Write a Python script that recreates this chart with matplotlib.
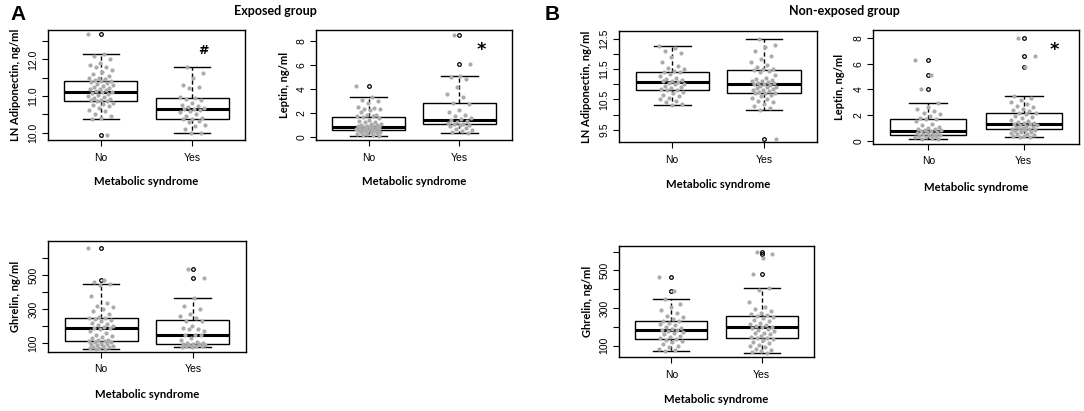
import numpy as np
import matplotlib
matplotlib.use("Agg")
import matplotlib.pyplot as plt

groups = ["No", "Yes"]

# ---- exposed group ----
adipo_exp_no = [12.68, 12.14, 12.10, 12.02, 11.90, 11.85, 11.80, 11.78, 11.72, 11.65, 11.60, 11.55,
                11.50, 11.48, 11.45, 11.43, 11.42, 11.40, 11.38, 11.35, 11.32, 11.30, 11.28, 11.25,
                11.22, 11.20, 11.18, 11.15, 11.13, 11.12, 11.10, 11.08, 11.05, 11.02, 11.00, 10.98,
                10.95, 10.92, 10.90, 10.88, 10.86, 10.85, 10.82, 10.78, 10.75, 10.72, 10.68, 10.62,
                10.58, 10.52, 10.45, 10.40, 10.37, 9.94]
adipo_exp_yes = [11.80, 11.62, 11.50, 11.30, 11.25, 11.22, 10.98, 10.95, 10.92, 10.88, 10.80, 10.75,
                 10.72, 10.70, 10.68, 10.65, 10.64, 10.62, 10.58, 10.55, 10.50, 10.45, 10.40, 10.38,
                 10.36, 10.32, 10.28, 10.22, 10.18, 10.10, 10.00, 9.98]
lep_exp_no = [4.25, 3.32, 3.10, 2.95, 2.80, 2.50, 2.40, 2.35, 2.30, 2.20, 2.05, 1.85, 1.80, 1.75, 1.70,
              1.68, 1.55, 1.40, 1.30, 1.25, 1.20, 1.10, 1.05, 1.00, 0.95, 0.90, 0.88, 0.85, 0.84, 0.82,
              0.78, 0.75, 0.70, 0.65, 0.62, 0.60, 0.58, 0.56, 0.55, 0.52, 0.50, 0.45, 0.42, 0.40, 0.35,
              0.30, 0.25, 0.20, 0.15, 0.10, 0.06]
lep_exp_yes = [8.5, 6.1, 5.07, 5.0, 4.8, 4.15, 3.6, 3.3, 2.8, 2.75, 2.2, 2.05, 1.85, 1.75, 1.55, 1.45,
               1.40, 1.35, 1.25, 1.15, 1.10, 1.05, 1.00, 0.95, 0.85, 0.75, 0.65, 0.55, 0.45, 0.35, 0.28]
ghr_exp_no = [662, 473, 460, 451, 440, 380, 335, 320, 310, 300, 290, 270, 255, 248, 245, 240, 235, 228,
              220, 212, 205, 198, 192, 188, 186, 180, 170, 160, 150, 140, 135, 128, 120, 115, 112, 110,
              108, 105, 100, 96, 92, 88, 85, 82, 78, 75, 72, 70, 66, 64]
ghr_exp_yes = [538, 482, 366, 320, 300, 270, 260, 250, 232, 228, 200, 190, 185, 180, 170, 150, 147, 145,
               130, 115, 105, 100, 98, 96, 94, 92, 90, 88, 85, 82, 80, 76, 74]

# ---- non-exposed group ----
adipo_non_no = [12.28, 12.20, 12.10, 12.05, 11.90, 11.75, 11.60, 11.55, 11.50, 11.45, 11.42, 11.40,
                11.35, 11.28, 11.22, 11.18, 11.15, 11.12, 11.10, 11.08, 11.05, 11.02, 11.00, 10.95,
                10.92, 10.88, 10.85, 10.82, 10.80, 10.75, 10.70, 10.65, 10.60, 10.55, 10.50, 10.45,
                10.40, 10.36, 10.33]
adipo_non_yes = [12.52, 12.30, 12.25, 12.10, 11.95, 11.85, 11.75, 11.65, 11.58, 11.52, 11.50, 11.48,
                 11.45, 11.40, 11.30, 11.22, 11.18, 11.15, 11.12, 11.10, 11.08, 11.05, 11.03, 11.02,
                 11.00, 10.98, 10.95, 10.92, 10.90, 10.88, 10.85, 10.82, 10.80, 10.78, 10.75, 10.73,
                 10.72, 10.70, 10.65, 10.60, 10.55, 10.50, 10.45, 10.40, 10.35, 10.30, 10.22, 10.16, 9.18]
lep_non_no = [6.3, 5.1, 4.0, 2.96, 2.6, 2.5, 2.3, 2.2, 2.1, 1.95, 1.8, 1.7, 1.66, 1.5, 1.3, 1.2, 1.1,
              1.0, 0.95, 0.9, 0.85, 0.8, 0.78, 0.75, 0.7, 0.65, 0.6, 0.55, 0.5, 0.45, 0.44, 0.4, 0.35,
              0.3, 0.25, 0.2, 0.15, 0.13]
lep_non_yes = [8.0, 6.6, 5.75, 3.53, 3.3, 3.2, 3.0, 2.9, 2.7, 2.6, 2.5, 2.4, 2.3, 2.2, 2.16, 2.05, 1.95,
               1.85, 1.75, 1.65, 1.55, 1.45, 1.40, 1.35, 1.30, 1.28, 1.25, 1.20, 1.15, 1.10, 1.05, 1.00,
               0.95, 0.91, 0.88, 0.85, 0.80, 0.75, 0.70, 0.65, 0.60, 0.55, 0.50, 0.45, 0.40, 0.35, 0.30, 0.26]
ghr_non_no = [465, 392, 350, 320, 305, 290, 275, 260, 250, 240, 232, 229, 222, 215, 208, 200, 195, 188,
              183, 181, 178, 172, 165, 160, 152, 145, 140, 137, 132, 125, 118, 110, 100, 92, 85, 78, 70]
ghr_non_yes = [600, 585, 565, 483, 407, 395, 330, 305, 295, 285, 275, 268, 262, 260, 255, 245, 238, 230,
               222, 215, 208, 203, 200, 199, 195, 190, 185, 178, 170, 165, 160, 152, 145, 140, 139, 135,
               128, 120, 112, 105, 98, 92, 85, 78, 70, 65, 61]

# box statistics: (whislo, q1, med, q3, whishi, fliers)
stats_adipo_exp = [(10.37, 10.85, 11.12, 11.42, 12.14, [12.68, 9.94]),
                   (9.98, 10.37, 10.64, 10.94, 11.80, [])]
stats_lep_exp = [(0.06, 0.56, 0.84, 1.67, 3.32, [4.25]),
                 (0.28, 1.03, 1.40, 2.79, 5.07, [6.1, 8.5])]
stats_ghr_exp = [(64, 109, 186, 245, 451, [473, 662]),
                 (74, 96, 147, 234, 366, [482, 538])]
stats_adipo_non = [(10.33, 10.81, 11.08, 11.40, 12.28, []),
                   (10.16, 10.72, 11.02, 11.48, 12.52, [9.18])]
stats_lep_non = [(0.13, 0.44, 0.78, 1.66, 2.96, [4.0, 5.1, 6.3]),
                 (0.26, 0.91, 1.30, 2.16, 3.53, [5.75, 6.6, 8.0])]
stats_ghr_non = [(70, 137, 181, 229, 350, [392, 465]),
                 (61, 139, 199, 260, 407, [483, 585, 600])]

W, H = 1084, 411
fig = plt.figure(figsize=(W / 100, H / 100), dpi=100)

label_font = "Lato"
tick_font = "Liberation Sans"


def make_ax(left, right, top, bottom):
    return fig.add_axes([left / W, 1 - bottom / H, (right - left) / W, (bottom - top) / H])


def panel(ax, stats, pts, ylim, yticks, ylabels, ylab):
    bx = []
    for s in stats:
        bx.append(dict(whislo=s[0], q1=s[1], med=s[2], q3=s[3], whishi=s[4], fliers=s[5]))
    ax.bxp(bx, positions=[1, 2], widths=0.8, patch_artist=True,
           boxprops=dict(facecolor="white", edgecolor="black", linewidth=1.0),
           medianprops=dict(color="black", linewidth=2.2),
           whiskerprops=dict(color="black", linewidth=1.0, linestyle=(0, (3, 2))),
           capprops=dict(color="black", linewidth=1.0), capwidths=0.4,
           flierprops=dict(marker="o", markerfacecolor="none", markeredgecolor="black",
                           markersize=2.6, markeredgewidth=0.9), zorder=2)
    for k, vals in enumerate(pts):
        n = len(vals)
        off = ((np.arange(n) * 0.618034 + 0.3 * k) % 1 - 0.5) * 0.28
        ax.plot(k + 1 + off, vals, "o", color="#ababab", markersize=3.0, markeredgewidth=0, zorder=3)
    ax.set_xlim(0.42, 2.58)
    ax.set_ylim(*ylim)
    ax.set_xticks([1, 2])
    ax.set_xticklabels(groups, fontsize=7.5, fontname=tick_font)
    ax.set_yticks(yticks)
    ax.set_yticklabels(ylabels, fontsize=7.5, fontname=tick_font, rotation=90, va="center")
    ax.tick_params(direction="out", length=4, width=0.8, pad=3)
    ax.tick_params(axis="x", pad=5)
    for sp in ax.spines.values():
        sp.set_linewidth(1.0)
    ax.set_ylabel(ylab, fontsize=8, fontweight="bold", fontname=label_font)
    ax.set_xlabel("Metabolic syndrome", fontsize=8.2, fontweight="bold", fontname=label_font)
    ax.yaxis.set_label_coords(-0.135, 0.5)
    ax.xaxis.set_label_coords(0.5, -0.33)


adipo_ticks_a = [10.0, 10.5, 11.0, 11.5, 12.0, 12.5]
adipo_labels_a = ["10.0", "", "11.0", "", "12.0", ""]
adipo_ticks_b = [9.5, 10.0, 10.5, 11.0, 11.5, 12.0, 12.5]
adipo_labels_b = ["9.5", "", "10.5", "", "11.5", "", "12.5"]
lep_ticks = [0, 2, 4, 6, 8]
lep_labels = ["0", "2", "4", "6", "8"]
ghr_ticks = [100, 200, 300, 400, 500, 600]
ghr_labels = ["100", "", "300", "", "500", ""]

ax1 = make_ax(48, 245, 30, 140)
panel(ax1, stats_adipo_exp, [adipo_exp_no, adipo_exp_yes], (9.8, 12.8), adipo_ticks_a, adipo_labels_a,
      "LN Adiponectin, ng/ml")
ax1.text(2.12, 12.25, "#", ha="center", va="center", fontsize=9, fontweight="bold")

ax2 = make_ax(316, 512, 30, 140)
panel(ax2, stats_lep_exp, [lep_exp_no, lep_exp_yes], (-0.28, 8.92), lep_ticks, lep_labels,
      "Leptin, ng/ml")
ax2.text(2.24, 7.25, "*", ha="center", va="center", fontsize=13, fontweight="bold")

ax3 = make_ax(48, 246, 241, 352)
panel(ax3, stats_ghr_exp, [ghr_exp_no, ghr_exp_yes], (47, 702), ghr_ticks, ghr_labels,
      "Ghrelin, ng/ml")

ax4 = make_ax(619, 817, 31, 142)
panel(ax4, stats_adipo_non, [adipo_non_no, adipo_non_yes], (9.09, 12.77), adipo_ticks_b, adipo_labels_b,
      "LN Adiponectin, ng/ml")

ax5 = make_ax(873, 1079, 30, 144)
panel(ax5, stats_lep_non, [lep_non_no, lep_non_yes], (-0.26, 8.65), lep_ticks, lep_labels,
      "Leptin, ng/ml")
ax5.text(2.32, 7.1, "*", ha="center", va="center", fontsize=13, fontweight="bold")

ax6 = make_ax(619, 814, 246, 357)
panel(ax6, stats_ghr_non, [ghr_non_no, ghr_non_yes], (40, 630), ghr_ticks, ghr_labels,
      "Ghrelin, ng/ml")

fig.text(10 / W, 1 - 14 / H, "A", fontsize=15, fontweight="bold", fontname="Liberation Sans",
         ha="left", va="center")
fig.text(545 / W, 1 - 14 / H, "B", fontsize=15, fontweight="bold", fontname="Liberation Sans",
         ha="left", va="center")
fig.text(275 / W, 1 - 11 / H, "Exposed group", fontsize=9, fontweight="bold", fontname=label_font,
         ha="center", va="center")
fig.text(844 / W, 1 - 11 / H, "Non-exposed group", fontsize=9, fontweight="bold", fontname=label_font,
         ha="center", va="center")

fig.savefig("out.png", dpi=100, facecolor="white")
